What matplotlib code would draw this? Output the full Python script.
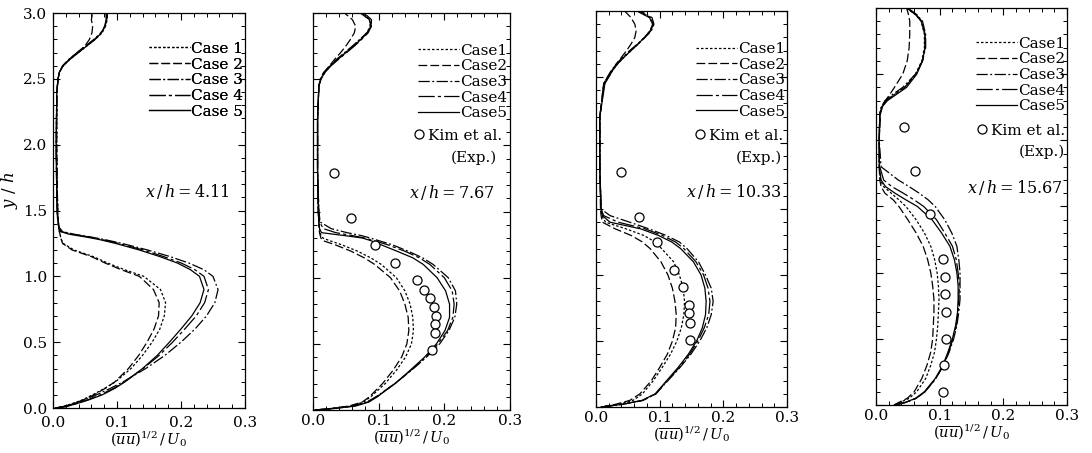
import numpy as np
import matplotlib.pyplot as plt

plt.rcParams['font.family'] = 'DejaVu Serif'
plt.rcParams['mathtext.fontset'] = 'dejavuserif'

# ---- datos: x = (uu)^1/2/U0 , y = y/h ----
case_labels = ['Case 1', 'Case 2', 'Case 3', 'Case 4', 'Case 5']

# x/h = 4.11
y_a = [0.0, 0.01, 0.03, 0.06, 0.1, 0.15, 0.2, 0.3, 0.4, 0.5, 0.6, 0.7, 0.8, 0.9, 1.0,
       1.05, 1.1, 1.15, 1.2, 1.25, 1.28, 1.3, 1.32, 1.34, 1.37, 1.45, 1.6, 2.0, 2.4, 2.5,
       2.55, 2.6, 2.65, 2.7, 2.75, 2.8, 2.85, 2.9, 2.95, 3.0]
c1_a = [0.003, 0.014, 0.028, 0.045, 0.062, 0.081, 0.098, 0.122, 0.14, 0.155, 0.167, 0.174,
        0.176, 0.168, 0.142, 0.112, 0.086, 0.063, 0.033, 0.016, 0.013, 0.012, 0.011, 0.01,
        0.009, 0.008, 0.007, 0.006, 0.006, 0.008, 0.01, 0.016, 0.027, 0.04, 0.053, 0.066,
        0.077, 0.082, 0.084, 0.084]
c2_a = [0.003, 0.015, 0.03, 0.047, 0.064, 0.082, 0.097, 0.118, 0.134, 0.147, 0.158, 0.165,
        0.166, 0.157, 0.135, 0.107, 0.082, 0.06, 0.03, 0.015, 0.013, 0.012, 0.011, 0.01,
        0.009, 0.008, 0.007, 0.006, 0.006, 0.008, 0.01, 0.016, 0.026, 0.038, 0.05, 0.057,
        0.061, 0.062, 0.06, 0.062]
c3_a = [0.004, 0.016, 0.03, 0.048, 0.068, 0.09, 0.11, 0.145, 0.175, 0.2, 0.222, 0.24,
        0.253, 0.258, 0.25, 0.236, 0.213, 0.183, 0.148, 0.108, 0.08, 0.058, 0.033, 0.015,
        0.01, 0.007, 0.006, 0.005, 0.006, 0.008, 0.01, 0.015, 0.025, 0.038, 0.051, 0.064,
        0.075, 0.082, 0.085, 0.085]
c4_a = [0.004, 0.019, 0.034, 0.053, 0.074, 0.095, 0.112, 0.141, 0.166, 0.187, 0.206, 0.224,
        0.237, 0.243, 0.236, 0.222, 0.201, 0.173, 0.141, 0.103, 0.076, 0.055, 0.03, 0.013,
        0.009, 0.007, 0.006, 0.005, 0.006, 0.008, 0.01, 0.016, 0.026, 0.039, 0.052, 0.065,
        0.075, 0.081, 0.084, 0.084]
c5_a = [0.004, 0.02, 0.035, 0.055, 0.077, 0.097, 0.113, 0.14, 0.163, 0.182, 0.2, 0.217,
        0.23, 0.236, 0.229, 0.215, 0.195, 0.167, 0.135, 0.098, 0.072, 0.05, 0.025, 0.012,
        0.009, 0.007, 0.006, 0.005, 0.006, 0.008, 0.01, 0.016, 0.027, 0.04, 0.053, 0.066,
        0.076, 0.081, 0.083, 0.083]

# x/h = 7.67
y_b = [0.0, 0.01, 0.03, 0.06, 0.1, 0.2, 0.3, 0.4, 0.5, 0.6, 0.7, 0.8, 0.9, 1.0, 1.1, 1.15,
       1.2, 1.25, 1.28, 1.3, 1.32, 1.34, 1.37, 1.42, 1.5, 1.8, 2.2, 2.45, 2.5, 2.55, 2.6,
       2.65, 2.7, 2.75, 2.8, 2.85, 2.9, 2.95, 3.0]
c1_b = [0.003, 0.026, 0.057, 0.077, 0.088, 0.11, 0.127, 0.141, 0.15, 0.153, 0.152, 0.148,
        0.14, 0.127, 0.104, 0.088, 0.068, 0.043, 0.025, 0.015, 0.012, 0.011, 0.01, 0.009,
        0.008, 0.007, 0.007, 0.009, 0.012, 0.017, 0.026, 0.037, 0.049, 0.061, 0.072, 0.082,
        0.087, 0.086, 0.075]
c2_b = [0.003, 0.025, 0.055, 0.075, 0.086, 0.106, 0.122, 0.135, 0.143, 0.146, 0.145, 0.14,
        0.132, 0.118, 0.094, 0.078, 0.058, 0.033, 0.015, 0.012, 0.011, 0.01, 0.009, 0.009,
        0.008, 0.007, 0.007, 0.009, 0.012, 0.018, 0.025, 0.033, 0.042, 0.05, 0.057, 0.063,
        0.065, 0.06, 0.048]
c3_b = [0.003, 0.028, 0.06, 0.082, 0.096, 0.125, 0.15, 0.173, 0.193, 0.207, 0.216, 0.219,
        0.217, 0.206, 0.183, 0.167, 0.145, 0.12, 0.1, 0.087, 0.072, 0.052, 0.028, 0.011,
        0.009, 0.007, 0.007, 0.009, 0.011, 0.016, 0.025, 0.036, 0.048, 0.06, 0.071, 0.082,
        0.089, 0.089, 0.078]
c4_b = [0.003, 0.029, 0.062, 0.083, 0.097, 0.125, 0.149, 0.172, 0.19, 0.205, 0.213, 0.215,
        0.212, 0.2, 0.178, 0.162, 0.14, 0.113, 0.093, 0.078, 0.058, 0.035, 0.016, 0.01,
        0.009, 0.007, 0.007, 0.009, 0.012, 0.018, 0.027, 0.039, 0.051, 0.063, 0.074, 0.084,
        0.089, 0.087, 0.074]
c5_b = [0.003, 0.03, 0.065, 0.085, 0.098, 0.125, 0.148, 0.17, 0.188, 0.201, 0.208, 0.208,
        0.202, 0.189, 0.168, 0.152, 0.128, 0.103, 0.088, 0.075, 0.045, 0.013, 0.01, 0.009,
        0.008, 0.007, 0.007, 0.009, 0.012, 0.018, 0.027, 0.038, 0.05, 0.062, 0.073, 0.083,
        0.088, 0.086, 0.072]
exp_x_b = [0.032, 0.058, 0.094, 0.125, 0.158, 0.169, 0.178, 0.184, 0.187, 0.186, 0.186, 0.181]
exp_y_b = [1.79, 1.45, 1.25, 1.11, 0.98, 0.91, 0.85, 0.78, 0.71, 0.65, 0.58, 0.45]

# x/h = 10.33
y_c = [0.0, 0.02, 0.05, 0.1, 0.2, 0.3, 0.4, 0.5, 0.6, 0.7, 0.8, 0.9, 1.0, 1.1, 1.2, 1.25,
       1.3, 1.35, 1.4, 1.45, 1.5, 1.8, 2.2, 2.45, 2.5, 2.55, 2.6, 2.65, 2.7, 2.75, 2.8,
       2.85, 2.9, 2.95, 3.0]
c1_c = [0.008, 0.035, 0.058, 0.073, 0.09, 0.104, 0.117, 0.127, 0.134, 0.138, 0.139, 0.137,
        0.131, 0.122, 0.103, 0.093, 0.075, 0.047, 0.015, 0.009, 0.008, 0.006, 0.006, 0.013,
        0.02, 0.026, 0.034, 0.044, 0.055, 0.066, 0.076, 0.085, 0.089, 0.085, 0.066]
c2_c = [0.008, 0.03, 0.053, 0.069, 0.087, 0.1, 0.112, 0.12, 0.125, 0.126, 0.124, 0.12,
        0.113, 0.102, 0.085, 0.073, 0.055, 0.03, 0.01, 0.008, 0.007, 0.006, 0.006, 0.012,
        0.018, 0.025, 0.032, 0.04, 0.048, 0.055, 0.061, 0.063, 0.061, 0.055, 0.045]
c3_c = [0.008, 0.042, 0.074, 0.094, 0.113, 0.132, 0.149, 0.163, 0.174, 0.181, 0.184, 0.181,
        0.172, 0.161, 0.143, 0.131, 0.11, 0.083, 0.053, 0.022, 0.008, 0.006, 0.006, 0.012,
        0.018, 0.024, 0.032, 0.042, 0.053, 0.065, 0.077, 0.087, 0.091, 0.088, 0.07]
c4_c = [0.008, 0.041, 0.073, 0.094, 0.112, 0.131, 0.147, 0.16, 0.17, 0.177, 0.179, 0.176,
        0.169, 0.157, 0.138, 0.125, 0.104, 0.077, 0.035, 0.012, 0.008, 0.006, 0.006, 0.013,
        0.019, 0.025, 0.033, 0.043, 0.054, 0.066, 0.077, 0.086, 0.09, 0.086, 0.068]
c5_c = [0.008, 0.04, 0.072, 0.093, 0.111, 0.129, 0.145, 0.158, 0.167, 0.172, 0.173, 0.171,
        0.165, 0.153, 0.133, 0.119, 0.098, 0.07, 0.022, 0.01, 0.008, 0.006, 0.006, 0.014,
        0.02, 0.026, 0.034, 0.044, 0.055, 0.066, 0.076, 0.085, 0.089, 0.084, 0.064]
exp_x_c = [0.039, 0.067, 0.096, 0.123, 0.136, 0.146, 0.146, 0.147, 0.148]
exp_y_c = [1.78, 1.44, 1.25, 1.04, 0.91, 0.77, 0.71, 0.64, 0.51]

# x/h = 15.67
y_d = [0.0, 0.02, 0.05, 0.1, 0.2, 0.3, 0.4, 0.5, 0.6, 0.7, 0.8, 0.9, 1.0, 1.1, 1.2, 1.3,
       1.4, 1.5, 1.55, 1.6, 1.65, 1.7, 1.8, 2.0, 2.2, 2.25, 2.3, 2.35, 2.4, 2.5, 2.6, 2.7,
       2.8, 2.9, 2.95, 3.0]
c1_d = [0.029, 0.038, 0.052, 0.064, 0.078, 0.086, 0.092, 0.095, 0.097, 0.098, 0.099, 0.098,
        0.096, 0.092, 0.086, 0.076, 0.063, 0.047, 0.036, 0.024, 0.012, 0.007, 0.005, 0.005,
        0.006, 0.009, 0.016, 0.03, 0.045, 0.062, 0.072, 0.076, 0.076, 0.071, 0.062, 0.048]
c2_d = [0.028, 0.036, 0.049, 0.06, 0.072, 0.08, 0.086, 0.089, 0.09, 0.091, 0.091, 0.089,
        0.086, 0.081, 0.074, 0.063, 0.05, 0.036, 0.027, 0.014, 0.008, 0.006, 0.005, 0.005,
        0.007, 0.01, 0.015, 0.022, 0.029, 0.042, 0.049, 0.052, 0.053, 0.053, 0.051, 0.048]
c3_d = [0.03, 0.047, 0.063, 0.077, 0.094, 0.106, 0.115, 0.122, 0.127, 0.13, 0.132, 0.132,
        0.132, 0.13, 0.127, 0.119, 0.108, 0.093, 0.082, 0.068, 0.052, 0.035, 0.008, 0.005,
        0.006, 0.008, 0.014, 0.027, 0.042, 0.062, 0.073, 0.078, 0.078, 0.073, 0.064, 0.05]
c4_d = [0.03, 0.047, 0.063, 0.077, 0.094, 0.106, 0.114, 0.121, 0.126, 0.129, 0.13, 0.131,
        0.129, 0.126, 0.12, 0.108, 0.095, 0.075, 0.06, 0.043, 0.025, 0.012, 0.006, 0.005,
        0.006, 0.009, 0.016, 0.03, 0.045, 0.063, 0.073, 0.077, 0.077, 0.072, 0.063, 0.049]
c5_d = [0.03, 0.046, 0.062, 0.076, 0.093, 0.105, 0.113, 0.12, 0.125, 0.128, 0.129, 0.129,
        0.127, 0.123, 0.116, 0.103, 0.088, 0.065, 0.047, 0.03, 0.015, 0.008, 0.005, 0.005,
        0.006, 0.009, 0.018, 0.033, 0.048, 0.064, 0.073, 0.077, 0.077, 0.071, 0.062, 0.048]
exp_x_d = [0.044, 0.061, 0.085, 0.106, 0.109, 0.109, 0.11, 0.11, 0.107, 0.106]
exp_y_d = [2.1, 1.77, 1.44, 1.1, 0.97, 0.84, 0.7, 0.5, 0.3, 0.1]

# estilos de linea de cada caso
dashes = [(2, 1.6), (7, 2.5), (9, 2, 1.5, 2), (13, 2.5, 2.5, 2.5), ()]

paneles = [
    dict(pos=[0.0485, 0.0993, 0.1758, 0.872], y=y_a, xs=[c1_a, c2_a, c3_a, c4_a, c5_a],
         ex=None, ey=None, tit='$x\\,/\\,h = 4.11$', tx=0.92, ty=0.547,
         lab=case_labels, leg=(0.99, 0.927), kim=None, exp=None),
    dict(pos=[0.2866, 0.0949, 0.1804, 0.8764], y=y_b, xs=[c1_b, c2_b, c3_b, c4_b, c5_b],
         ex=exp_x_b, ey=exp_y_b, tit='$x\\,/\\,h = 7.67$', tx=0.925, ty=0.549,
         lab=[c.replace(' ', '') for c in case_labels], leg=(0.985, 0.923),
         kim=(0.959, 0.709), exp=(0.934, 0.635)),
    dict(pos=[0.5458, 0.1015, 0.1749, 0.8742], y=y_c, xs=[c1_c, c2_c, c3_c, c4_c, c5_c],
         ex=exp_x_c, ey=exp_y_c, tit='$x\\,/\\,h = 10.33$', tx=0.975, ty=0.543,
         lab=[c.replace(' ', '') for c in case_labels], leg=(0.99, 0.922),
         kim=(0.979, 0.703), exp=(0.974, 0.629)),
    dict(pos=[0.8022, 0.1060, 0.1749, 0.8764], y=y_d, xs=[c1_d, c2_d, c3_d, c4_d, c5_d],
         ex=exp_x_d, ey=exp_y_d, tit='$x\\,/\\,h = 15.67$', tx=0.98, ty=0.547,
         lab=[c.replace(' ', '') for c in case_labels], leg=(0.99, 0.928),
         kim=(0.99, 0.709), exp=(0.99, 0.637)),
]

fig = plt.figure(figsize=(10.92, 4.53), dpi=100)

for i, p in enumerate(paneles):
    ax = fig.add_axes(p['pos'])
    lineas = []
    for xs, d in zip(p['xs'], dashes):
        l, = ax.plot(xs, p['y'], color='black', lw=0.9)
        if d:
            l.set_dashes(d)
        lineas.append(l)

    ax.set_xlim(0, 0.3)
    ax.set_ylim(0, 3.0)
    ax.set_xticks([0.0, 0.1, 0.2, 0.3])
    ax.set_xticks(np.arange(0, 0.301, 0.02), minor=True)
    ax.set_yticks([0.0, 0.5, 1.0, 1.5, 2.0, 2.5, 3.0])
    ax.set_yticks(np.arange(0, 3.01, 0.1), minor=True)
    ax.tick_params(which='both', direction='in', top=True, right=True, labelsize=11)
    ax.tick_params(which='major', length=5, width=0.8)
    ax.tick_params(which='minor', length=3, width=0.7)
    ax.tick_params(axis='y', pad=4)
    for s in ax.spines.values():
        s.set_linewidth(0.9)
    if i == 0:
        # un poco mas de espacio para que no choquen los dos "0.0"
        ax.tick_params(axis='x', pad=6)
        ax.set_xlabel('$(\\overline{uu})^{1/2}\\,/\\,U_0$', fontsize=10.5, labelpad=0)
        ax.set_ylabel('$y\\ /\\ h$', fontsize=12, labelpad=2)
        ax.yaxis.set_label_coords(-0.17, 0.55)
    else:
        ax.tick_params(axis='x', pad=3)
        ax.set_xlabel('$(\\overline{uu})^{1/2}\\,/\\,U_0$', fontsize=10.5, labelpad=0)
        ax.tick_params(axis='y', labelleft=False)

    leg = ax.legend(lineas, p['lab'], loc='upper right', bbox_to_anchor=p['leg'],
                    frameon=False, fontsize=11, handlelength=2.7, handletextpad=0.05,
                    labelspacing=0.11, borderpad=0, borderaxespad=0)
    ax.add_artist(leg)

    if p['ex'] is not None:
        pt, = ax.plot(p['ex'], p['ey'], 'o', ms=6.5, mfc='white', mec='black', mew=0.9)
        ax.legend([pt], ['Kim et al.'], loc='upper right', bbox_to_anchor=p['kim'],
                  frameon=False, fontsize=11, handlelength=0.6, handletextpad=0.3,
                  borderpad=0, borderaxespad=0)
        ax.text(p['exp'][0], p['exp'][1], '(Exp.)', transform=ax.transAxes,
                ha='right', va='center', fontsize=11)

    ax.text(p['tx'], p['ty'], p['tit'], transform=ax.transAxes, ha='right',
            va='center', fontsize=11.5)

plt.savefig('out.png', dpi=100)
